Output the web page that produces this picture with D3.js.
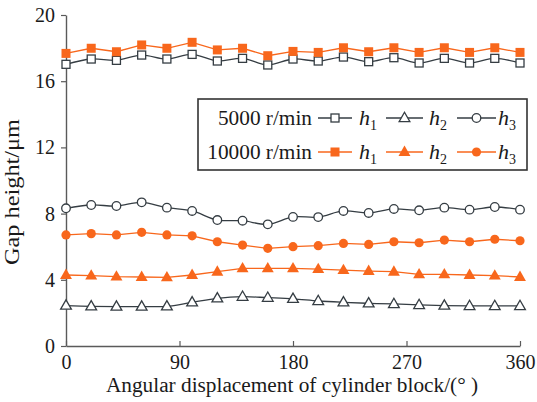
<!DOCTYPE html>
<html>
<head>
<meta charset="utf-8">
<script src="https://cdn.jsdelivr.net/npm/d3@7"></script>
<style>
  body { margin: 0; background: #fff; }
</style>
</head>
<body>
<div id="chart"></div>
<script>
// angle of cylinder block (deg)
var angles = [0, 20, 40, 60, 80, 100, 120, 140, 160, 180, 200, 220, 240, 260, 280, 300, 320, 340, 360];

// gap heights (um), 5000 r/min
var h1_5000 = [17.02, 17.34, 17.26, 17.58, 17.34, 17.62, 17.22, 17.38, 16.98, 17.34, 17.22, 17.46, 17.18, 17.42, 17.1, 17.38, 17.1, 17.38, 17.1];
var h2_5000 = [2.44, 2.4, 2.38, 2.38, 2.4, 2.64, 2.88, 2.98, 2.92, 2.85, 2.72, 2.64, 2.58, 2.54, 2.48, 2.44, 2.42, 2.42, 2.42];
var h3_5000 = [8.32, 8.52, 8.46, 8.68, 8.36, 8.16, 7.61, 7.57, 7.35, 7.8, 7.79, 8.16, 8.04, 8.28, 8.2, 8.36, 8.24, 8.4, 8.24];

// gap heights (um), 10000 r/min
var h1_10000 = [17.68, 17.99, 17.78, 18.19, 17.99, 18.35, 17.89, 17.99, 17.54, 17.8, 17.74, 18.02, 17.78, 18.02, 17.74, 18.02, 17.74, 18.02, 17.74];
var h2_10000 = [4.29, 4.25, 4.19, 4.17, 4.15, 4.29, 4.49, 4.69, 4.69, 4.69, 4.65, 4.59, 4.53, 4.49, 4.33, 4.33, 4.29, 4.25, 4.17];
var h3_10000 = [6.71, 6.79, 6.71, 6.87, 6.71, 6.66, 6.3, 6.1, 5.9, 6.0, 6.06, 6.2, 6.14, 6.3, 6.24, 6.4, 6.3, 6.45, 6.36];

var xTicks = [0, 90, 180, 270, 360];
var yTicks = [0, 4, 8, 12, 16, 20];
var speeds = ["5000 r/min", "10000 r/min"];

var width = 537, height = 402;
var dark = "#353d43", orange = "#f8671c", axisCol = "#5a5a5a", txt = "#1a1a1a";
var font = "Liberation Serif";

var svg = d3.select("#chart")
  .append("svg")
  .attr("width", width)
  .attr("height", height)
  .attr("font-family", font);

var x = d3.scaleLinear().domain([0, 360]).range([66, 520]);
var y = d3.scaleLinear().domain([0, 20]).range([346, 15]);

// axes
var xAxis = svg.append("g")
  .attr("transform", "translate(0," + y(0) + ")")
  .call(d3.axisBottom(x).tickValues(xTicks).tickSize(-5).tickSizeOuter(0).tickPadding(9));
var yAxis = svg.append("g")
  .attr("transform", "translate(" + x(0) + ",0)")
  .call(d3.axisLeft(y).tickValues(yTicks).tickSize(5).tickSizeOuter(0).tickPadding(6));

[xAxis, yAxis].forEach(function(g) {
  g.attr("font-family", font).attr("font-size", 20);
  g.select(".domain").attr("stroke", axisCol).attr("stroke-width", 1.4);
  g.selectAll(".tick line").attr("stroke", axisCol).attr("stroke-width", 1.2);
  g.selectAll(".tick text").attr("fill", txt);
});

// axis titles
svg.append("text")
  .attr("x", 292).attr("y", 392)
  .attr("text-anchor", "middle")
  .attr("font-size", 21.3)
  .attr("fill", txt)
  .text("Angular displacement of cylinder block/(° )");

svg.append("text")
  .attr("transform", "translate(19,192) rotate(-90)")
  .attr("text-anchor", "middle")
  .attr("font-size", 20)
  .attr("textLength", 146)
  .attr("lengthAdjust", "spacingAndGlyphs")
  .attr("fill", txt)
  .text("Gap height/μm");

// markers
function drawMarker(g, shape, cx, cy, filled, color) {
  var fill = filled ? color : "#fff";
  if (shape == "square") {
    var s = filled ? 9 : 8;
    g.append("rect").attr("x", cx - s / 2).attr("y", cy - s / 2).attr("width", s).attr("height", s)
      .attr("fill", fill).attr("stroke", color).attr("stroke-width", filled ? 0 : 1.3);
  } else if (shape == "triangle") {
    var sym = d3.symbol().type(d3.symbolTriangle).size(filled ? 62 : 50);
    g.append("path").attr("d", sym()).attr("transform", "translate(" + cx + "," + (cy + 0.5) + ")")
      .attr("fill", fill).attr("stroke", color).attr("stroke-width", filled ? 0 : 1.3);
  } else {
    g.append("circle").attr("cx", cx).attr("cy", cy).attr("r", filled ? 4.6 : 4.3)
      .attr("fill", fill).attr("stroke", color).attr("stroke-width", filled ? 0 : 1.3);
  }
}

var series = [
  {vals: h3_5000, shape: "circle", filled: false, color: dark},
  {vals: h2_5000, shape: "triangle", filled: false, color: dark},
  {vals: h1_5000, shape: "square", filled: false, color: dark},
  {vals: h3_10000, shape: "circle", filled: true, color: orange},
  {vals: h2_10000, shape: "triangle", filled: true, color: orange},
  {vals: h1_10000, shape: "square", filled: true, color: orange}
];

series.forEach(function(s) {
  var line = d3.line()
    .x(function(d, i) { return x(angles[i]); })
    .y(function(d) { return y(d); })
    .curve(s.filled ? d3.curveLinear : d3.curveCatmullRom);
  svg.append("path")
    .datum(s.vals)
    .attr("d", line)
    .attr("fill", "none")
    .attr("stroke", s.color)
    .attr("stroke-width", 1.3);
  var g = svg.append("g");
  s.vals.forEach(function(v, i) {
    drawMarker(g, s.shape, x(angles[i]), y(v), s.filled, s.color);
  });
});

// legend
var leg = svg.append("g");
leg.append("rect")
  .attr("x", 198).attr("y", 99).attr("width", 329).attr("height", 71)
  .attr("fill", "#fff").attr("stroke", "#333").attr("stroke-width", 1.6);

var rowsY = [118, 152];
var shapes = ["square", "triangle", "circle"];
var segs = [[318, 352, 359], [386, 423, 429], [457, 496, 498]];
speeds.forEach(function(sp, r) {
  var cy = rowsY[r];
  var color = r == 0 ? dark : orange;
  leg.append("text")
    .attr("x", 312).attr("y", cy + 7)
    .attr("text-anchor", "end")
    .attr("font-size", 21.3)
    .attr("fill", txt)
    .text(sp);
  shapes.forEach(function(sh, k) {
    var sg = segs[k];
    leg.append("line")
      .attr("x1", sg[0]).attr("x2", sg[1]).attr("y1", cy).attr("y2", cy)
      .attr("stroke", color).attr("stroke-width", 1.3);
    drawMarker(leg, sh, (sg[0] + sg[1]) / 2, cy, r == 1, color);
    var t = leg.append("text")
      .attr("x", sg[2]).attr("y", cy + 7)
      .attr("font-size", 22)
      .attr("fill", txt);
    t.append("tspan").attr("font-style", "italic").text("h");
    t.append("tspan").attr("dy", 5).attr("font-size", 14).text(k + 1);
  });
});
</script>
</body>
</html>
